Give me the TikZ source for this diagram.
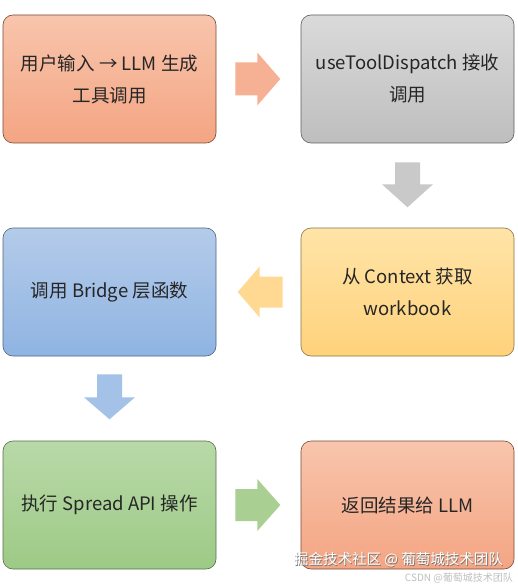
\documentclass[tikz,border=0pt]{standalone}
\usepackage{fontspec}
\setmainfont{Noto Sans CJK SC}
\usetikzlibrary{calc}
\definecolor{orT}{HTML}{F8C5AC}\definecolor{orB}{HTML}{F4A583}\definecolor{orD}{HTML}{7A4A36}
\definecolor{grT}{HTML}{DADADA}\definecolor{grB}{HTML}{BEBEBE}\definecolor{grD}{HTML}{5E5E5E}
\definecolor{blT}{HTML}{B4CBEA}\definecolor{blB}{HTML}{8FB4E2}\definecolor{blD}{HTML}{4F6580}
\definecolor{yeT}{HTML}{FFE4A8}\definecolor{yeB}{HTML}{FFD27B}\definecolor{yeD}{HTML}{8A7344}
\definecolor{gnT}{HTML}{B8D9A8}\definecolor{gnB}{HTML}{9DCA86}\definecolor{gnD}{HTML}{56704A}
\definecolor{orA}{HTML}{F6B195}
\definecolor{grA}{HTML}{C9C9C9}
\definecolor{blA}{HTML}{A4C1E7}
\definecolor{yeA}{HTML}{FFD992}
\definecolor{gnA}{HTML}{A9D092}
\tikzset{
  box/.style={rounded corners=10pt, minimum width=213pt, minimum height=128pt,
    inner sep=0pt, align=center, font=\fontsize{18.5pt}{32pt}\selectfont, text=black!85, line width=0.6pt},
  orbox/.style={box, draw=orD, top color=orT, bottom color=orB},
  grbox/.style={box, draw=grD, top color=grT, bottom color=grB},
  blbox/.style={box, draw=blD, top color=blT, bottom color=blB},
  yebox/.style={box, draw=yeD, top color=yeT, bottom color=yeB},
  gnbox/.style={box, draw=gnD, top color=gnT, bottom color=gnB},
  wmark/.style={anchor=east, inner sep=0pt, font=\fontsize{14.5pt}{14.5pt}\selectfont},
}
\begin{document}
\begin{tikzpicture}[x=1pt,y=-1pt]
\useasboundingbox (0,0) rectangle (518,585);
\fill[white] (0,0) rectangle (518,585);
\node[orbox] (n1) at (109.5,79) {用户输入 → LLM 生成\\工具调用};
\node[grbox] (n2) at (407.5,79) {useToolDispatch 接收\\调用};
\node[yebox] (n3) at (407.5,292) {从 Context 获取\\workbook};
\node[blbox] (n4) at (109.5,292) {调用 Bridge 层函数};
\node[gnbox] (n5) at (109.5,505) {执行 Spread API 操作};
\node[orbox] (n6) at (407.5,505) {返回结果给 LLM};
% right arrow n1 -> n2
\fill[orA] ($(n1.east)+(19,-16.5)$) -- ++(22,0) -- ++(0,-10) -- ($(n1.east)+(64,0)$)
  -- ($(n1.east)+(41,26.5)$) -- ++(0,-10) -- ++(-22,0) -- cycle;
% down arrow n2 -> n3
\fill[grA] ($(n2.south)+(-12.5,19)$) -- ++(25,0) -- ++(0,22) -- ++(13,0) -- ($(n2.south)+(0,64)$)
  -- ($(n2.south)+(-25.5,41)$) -- ++(13,0) -- cycle;
% left arrow n3 -> n4
\fill[yeA] ($(n3.west)+(-18,-15.5)$) -- ++(-23,0) -- ++(0,-10) -- ($(n3.west)+(-63,0)$)
  -- ($(n3.west)+(-41,25.5)$) -- ++(0,-10) -- ++(23,0) -- cycle;
% down arrow n4 -> n5
\fill[blA] ($(n4.south)+(-12.5,18)$) -- ++(25,0) -- ++(0,23) -- ++(13,0) -- ($(n4.south)+(0,63)$)
  -- ($(n4.south)+(-25.5,41)$) -- ++(13,0) -- cycle;
% right arrow n5 -> n6
\fill[gnA] ($(n5.east)+(19,-16)$) -- ++(22,0) -- ++(0,-10) -- ($(n5.east)+(64,0)$)
  -- ($(n5.east)+(41,26)$) -- ++(0,-10) -- ++(-22,0) -- cycle;
% watermarks
\node[wmark, text=black!55] (w0) at (503.7,560.7) {掘金技术社区 @ 葡萄城技术团队};
\node[wmark, text=white] (w1) at (503,560) {掘金技术社区 @ 葡萄城技术团队};
\node[anchor=east, inner sep=0pt, font=\fontsize{10pt}{10pt}\selectfont, text=black!25] (w2) at (513,578) {CSDN @葡萄城技术团队};
\end{tikzpicture}
\end{document}
